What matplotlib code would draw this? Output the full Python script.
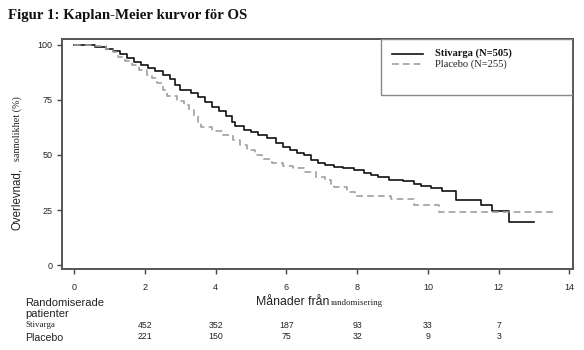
import matplotlib
matplotlib.use("Agg")
import matplotlib.pyplot as plt
from matplotlib.patches import Rectangle
from matplotlib.lines import Line2D
import matplotlib.transforms as mtransforms

# ---------------- data ----------------
stivarga_t = [0, 0.3, 0.6, 0.9, 1.1, 1.3, 1.5, 1.7, 1.9, 2.1, 2.3, 2.5, 2.7, 2.85, 3.0,
              3.3, 3.5, 3.7, 3.9, 4.1, 4.3, 4.45, 4.55, 4.8, 5.0, 5.2, 5.45, 5.7, 5.9,
              6.1, 6.3, 6.5, 6.7, 6.9, 7.1, 7.35, 7.6, 7.9, 8.2, 8.4, 8.6, 8.9, 9.3,
              9.6, 9.8, 10.1, 10.4, 10.8, 11.5, 11.8, 12.3, 13.0]
stivarga_s = [100, 99.8, 99.2, 98.3, 97.2, 95.8, 94, 92.4, 90.8, 89.5, 88, 86.5, 84.5, 82,
              79.5, 78.3, 76.5, 74.2, 72, 70, 67.5, 65, 63, 61.5, 60.4, 59, 57.5, 55.5,
              53.8, 52.3, 51, 49.8, 47.5, 46.5, 45.5, 44.7, 44, 43, 42, 40.8, 39.8, 38.8,
              38, 37, 35.8, 35, 33.6, 29.5, 27.3, 24.5, 19.7, 19.7]

placebo_t = [0, 0.5, 0.9, 1.1, 1.25, 1.45, 1.65, 1.85, 2.05, 2.2, 2.35, 2.5, 2.62, 2.9,
             3.1, 3.25, 3.4, 3.5, 3.6, 3.9, 4.2, 4.5, 4.7, 4.9, 5.1, 5.3, 5.6, 5.9, 6.2,
             6.5, 6.85, 7.1, 7.25, 7.35, 7.7, 7.95, 8.95, 9.6, 10.3, 13.6]
placebo_s = [100, 99.5, 98, 96.8, 94.5, 92.8, 91, 88.6, 86.5, 85, 82.5, 79.5, 76.8, 74.5,
             72.5, 70.5, 67.5, 64.5, 62.8, 60.8, 59, 57, 54.5, 52.3, 50, 48.3, 46.5, 45.2,
             44, 42.3, 40.2, 38.5, 37, 35.5, 33.2, 31.2, 29.8, 27.3, 24.2, 24.2]

x_ticks = [0, 2, 4, 6, 8, 10, 12, 14]
y_ticks = [0, 25, 50, 75, 100]
risk_months = [2, 4, 6, 8, 10, 12]
risk_stivarga = [452, 352, 187, 93, 33, 7]
risk_placebo = [221, 150, 75, 32, 9, 3]

title = "Figur 1: Kaplan-Meier kurvor för OS"
label_stivarga = "Stivarga (N=505)"
label_placebo = "Placebo (N=255)"

# ---------------- figure ----------------
W, H = 584, 350
fig = plt.figure(figsize=(W / 100, H / 100), dpi=100)
ax = fig.add_axes([62 / W, 1 - 269 / H, (573 - 62) / W, (269 - 39) / H])

ax.plot(stivarga_t, stivarga_s, drawstyle="steps-post", color="#111111", lw=1.2)
ax.plot(placebo_t, placebo_s, drawstyle="steps-post", color="#a0a0a0", lw=1.2,
        linestyle=(0, (4, 2.5)))

ax.set_xlim(-0.34, 14.1)
ax.set_ylim(-1.8, 102.7)
ax.set_xticks(x_ticks)
ax.set_yticks(y_ticks)
ax.tick_params(axis="both", labelsize=6.5, length=3.5, width=1.0, color="#444444",
               labelcolor="#222222")
ax.tick_params(axis="x", pad=6.5)
ax.tick_params(axis="y", pad=3.5)
for lab in ax.get_xticklabels() + ax.get_yticklabels():
    lab.set_family("Liberation Sans")
for sp in ax.spines.values():
    sp.set_color("#555555")
    sp.set_linewidth(1.4)

# legend box
ax.add_patch(Rectangle((381 / W, 1 - 95 / H), (573 - 381) / W, (95 - 39) / H,
                       transform=fig.transFigure, fill=False, edgecolor="#888888",
                       lw=1.0, zorder=5))
fig.add_artist(Line2D([392 / W, 423 / W], [1 - 54 / H, 1 - 54 / H], color="#111111", lw=1.2))
fig.add_artist(Line2D([392 / W, 423 / W], [1 - 64 / H, 1 - 64 / H], color="#a0a0a0", lw=1.2,
                      linestyle=(0, (4, 2.5))))
fig.text(435 / W, 1 - 53.5 / H, label_stivarga, family="Liberation Serif", weight="bold",
         fontsize=7.6, va="center", ha="left", color="#111111")
fig.text(435 / W, 1 - 64.5 / H, label_placebo, family="Liberation Serif",
         fontsize=7.6, va="center", ha="left", color="#222222")

# title
fig.text(8 / W, 1 - 15 / H, title, family="Liberation Serif", weight="bold",
         fontsize=10.7, va="center", ha="left", color="#111111")

# y label (mixed fonts)
fig.text(17 / W, 1 - 230 / H, "Overlevnad,", family="Liberation Sans", fontsize=8.3,
         rotation=90, ha="center", va="bottom", color="#222222")
fig.text(17 / W, 1 - 161 / H, "sannolikhet (%)", family="Liberation Serif", fontsize=7.3,
         rotation=90, ha="center", va="bottom", color="#222222")

# x label (mixed fonts)
fig.text(329 / W, 1 - 302 / H, "Månader från", family="Liberation Sans", fontsize=8.8,
         va="center", ha="right", color="#222222")
fig.text(331 / W, 1 - 303 / H, "randomisering", family="Liberation Serif", fontsize=6.4,
         va="center", ha="left", color="#222222")

# risk table
fig.text(25 / W, 1 - 302.5 / H, "Randomiserade", family="Liberation Sans", fontsize=8,
         va="center", ha="left", color="#222222")
fig.text(25 / W, 1 - 314 / H, "patienter", family="Liberation Sans", fontsize=8,
         va="center", ha="left", color="#222222")
fig.text(25 / W, 1 - 325 / H, "Stivarga", family="Liberation Serif", fontsize=6.5,
         va="center", ha="left", color="#222222")
fig.text(25 / W, 1 - 338 / H, "Placebo", family="Liberation Sans", fontsize=7.6,
         va="center", ha="left", color="#222222")
trans = mtransforms.blended_transform_factory(ax.transData, fig.transFigure)
for m, a, b in zip(risk_months, risk_stivarga, risk_placebo):
    ax.text(m, 1 - 325 / H, str(a), transform=trans, family="Liberation Sans", fontsize=6.3,
            ha="center", va="center", color="#222222")
    ax.text(m, 1 - 336.5 / H, str(b), transform=trans, family="Liberation Sans", fontsize=6.3,
            ha="center", va="center", color="#222222")

fig.savefig("out.png", dpi=100)
